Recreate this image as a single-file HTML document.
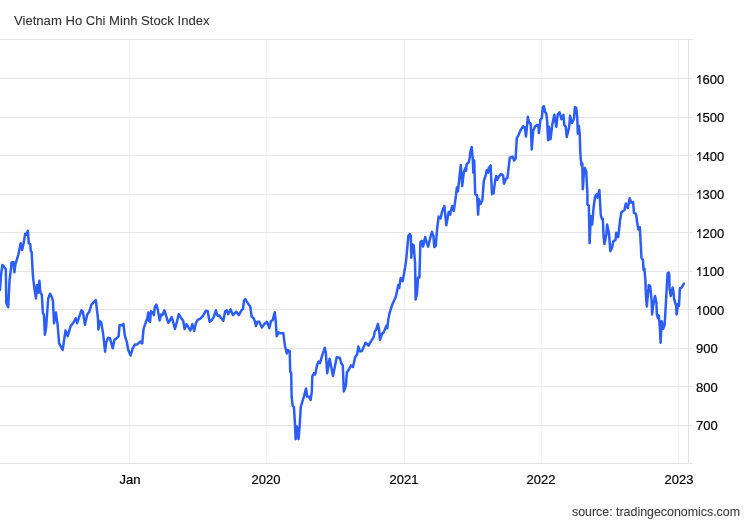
<!DOCTYPE html>
<html><head><meta charset="utf-8"><style>
html,body{margin:0;padding:0;background:#fff;width:750px;height:520px;overflow:hidden}
.t{position:absolute;font-family:"Liberation Sans",sans-serif;font-size:13px;line-height:13px;white-space:nowrap;color:#151515;will-change:transform}
.xl{width:80px;text-align:center}
.one{display:inline-block;width:6.5px;height:13px;vertical-align:top;position:relative}
.one svg{position:absolute;left:0;top:0}
.yl,.xl{color:#000;-webkit-text-stroke:0.2px #000}
svg{position:absolute;left:0;top:0}
</style></head><body>
<svg width="750" height="520" viewBox="0 0 750 520">
<line x1="129.5" y1="39" x2="129.5" y2="463" stroke="#f0f0f0" stroke-width="1"/>
<line x1="266.5" y1="39" x2="266.5" y2="463" stroke="#f0f0f0" stroke-width="1"/>
<line x1="404.5" y1="39" x2="404.5" y2="463" stroke="#f0f0f0" stroke-width="1"/>
<line x1="541.5" y1="39" x2="541.5" y2="463" stroke="#f0f0f0" stroke-width="1"/>
<line x1="678.5" y1="39" x2="678.5" y2="463" stroke="#f0f0f0" stroke-width="1"/>
<line x1="0" y1="39.5" x2="693" y2="39.5" stroke="#e6e6e6" stroke-width="1"/>
<line x1="0" y1="78.5" x2="693" y2="78.5" stroke="#e6e6e6" stroke-width="1"/>
<line x1="0" y1="117.5" x2="693" y2="117.5" stroke="#e6e6e6" stroke-width="1"/>
<line x1="0" y1="155.5" x2="693" y2="155.5" stroke="#e6e6e6" stroke-width="1"/>
<line x1="0" y1="194.5" x2="693" y2="194.5" stroke="#e6e6e6" stroke-width="1"/>
<line x1="0" y1="232.5" x2="693" y2="232.5" stroke="#e6e6e6" stroke-width="1"/>
<line x1="0" y1="271.5" x2="693" y2="271.5" stroke="#e6e6e6" stroke-width="1"/>
<line x1="0" y1="309.5" x2="693" y2="309.5" stroke="#e6e6e6" stroke-width="1"/>
<line x1="0" y1="348.5" x2="693" y2="348.5" stroke="#e6e6e6" stroke-width="1"/>
<line x1="0" y1="386.5" x2="693" y2="386.5" stroke="#e6e6e6" stroke-width="1"/>
<line x1="0" y1="425.5" x2="693" y2="425.5" stroke="#e6e6e6" stroke-width="1"/>
<line x1="688.5" y1="39" x2="688.5" y2="464" stroke="#e0e0e0" stroke-width="1"/>
<line x1="0" y1="463.5" x2="693" y2="463.5" stroke="#e3e3e3" stroke-width="1"/>
<polyline points="0,290 1,275.5 2.4,264.9 4.3,267.3 5.8,269.2 6.3,303.3 8.2,307.2 9.6,279.3 11.1,267.8 11.5,262.5 13.5,262 14.4,272.3 15.4,264.4 18.3,254.8 20.7,243.3 22.1,250 23.6,243.3 25.2,233.7 26.4,234.6 27.9,230.8 28.8,243.3 30.3,244.2 30.8,251 31.7,252 32.7,272.6 33.2,278.3 34.6,289.9 36,298.5 37,285 38,292.8 39.4,280.8 40.4,292.8 41.8,294.5 42.9,313.1 43.9,314.6 44.9,334.8 46.1,327.5 48.2,298.7 50,293.7 51.9,297.3 53,301.6 54,323.2 55.9,312.4 57.6,324.7 59.1,343.4 60.8,346.3 62.7,349.9 65.5,330.4 67.7,336.2 70.6,326.1 73.5,322.5 75.6,318.2 77.1,323.2 81.4,310.3 82.8,311.7 85,324.7 87.2,314.6 89.3,311.7 91.5,304.5 95.8,300.2 97.9,318 98.4,329.5 99.8,320.9 101.3,322.8 103.2,334.3 105.1,351.7 106.1,343 108,337.7 109.9,338.2 112.8,348.3 114.3,340.1 116.7,338.2 118.6,336.3 119.6,325.2 122,325.2 123.4,323.8 124.8,335.3 126.8,342 128.2,349.7 130.6,355.5 132.5,348.8 134.9,344.4 137.3,344.4 140.2,341.6 142.2,343.5 143.6,328.6 146,321.8 147.4,318 148.3,312.4 149.1,321 150,321.8 151,311.2 152.9,312.7 153.8,315.1 154.8,307.4 156.3,304.5 157.7,309.3 158.7,315.1 159.6,320.4 161.1,314.6 162.5,315.1 164.4,310.3 165.9,315.1 168.3,322.8 169.7,320.8 171.6,317 173.1,321.8 175,329 176.9,321.8 178.8,314.1 180.8,317.5 183.2,320.8 184.6,329 186.5,324.2 188.5,327.6 190.4,330.5 192.3,324.2 194.2,331 195.7,323.7 197.6,319.9 200,318.9 202.9,316 205.8,310.8 207.7,311.2 209.6,321.8 212,319.9 213.9,316.5 215.9,310.3 217.3,315.1 218,316 219.4,315.6 220.9,318 223.3,320.8 225.2,311.2 226.7,310.3 228.1,314.1 230.5,309.3 232.9,315.1 236.3,311.7 238.7,315.1 241.1,310.8 243,308.8 244,300.7 245.4,299.2 246.8,301.6 248.8,304.5 250.2,306.4 251.7,317 253.6,318 255,321.8 256,326.1 257.4,321.8 259.3,321.8 261.8,327.6 264.2,324.2 267,321.8 269.4,328.1 270.9,321.3 272.8,319.9 274.7,312.2 275.7,320.8 276.7,336.2 278.6,332.4 280.5,333.3 283.4,333.3 284.9,345.8 286.8,353.5 287.8,350.1 289.7,351.1 290.2,371.7 291.2,372.7 291.6,396.5 292.7,405.8 293.9,406.9 295,424.2 295.6,439.2 296.8,426.5 298.5,439.2 299.6,426.5 300.8,406.9 302.5,401.1 304.3,395.4 306,388.5 307.1,396.5 308.9,396.5 310.6,400 311.8,391.9 312.3,376.5 313.8,373.2 315.2,374.6 317.1,365 318.6,361.6 320,363.1 321.9,356.3 324.8,347.7 325.8,352.5 327.2,373.2 329.6,358.8 333,376.1 336.7,357.2 339.8,357.7 341.3,363.3 342.8,365.4 343.8,391.4 345.9,385.8 346.9,372.5 348.9,369.5 351,365.4 353,366.9 355.1,357.2 357.1,354.2 358.4,346.5 359.8,351.3 361.7,351.3 365.6,342.7 368.5,345.6 371.3,340.8 373.8,336.9 374.7,331.6 376.2,329.7 377.9,323.9 379,329.2 380,339.8 381.9,334 383.8,332.1 386.3,325.9 387.2,328.3 388.2,320.1 389.6,312.9 392,305.3 395.9,296.6 398.3,285.1 399.2,288 400.7,277.9 402.6,281.2 404.5,271.1 406,261.5 408.4,235.6 409.8,234.1 410.8,235.6 411.3,257.7 412.2,244.2 413.7,245.2 415.1,263.5 415.6,299.5 417,293.7 418,277.4 419.4,277.4 420.4,242.3 421.8,240.9 423.1,246.6 425.2,237 426.6,242.3 428.1,246.6 430,239 431.9,231.7 433.4,235.6 434.3,247.1 435.8,245.7 437.2,228 438.7,216.5 440.6,218.5 442,211.7 444.4,206 446.3,225.2 448.8,211.7 450.2,214.6 452.1,206 453.8,210.8 456,195.2 456.9,187.5 457.9,191.3 460.8,164.9 462.2,186.1 463.7,173.1 465.1,168.3 466.1,170.7 466.5,164.4 468.5,162.5 469.4,159.6 470.4,151.9 471.7,147 472.8,159.6 473.3,172.6 474.2,160.6 475.2,194.2 477.1,195.4 478.1,214.6 479,199.2 480.5,204 482.4,200.2 483.8,180.8 485.8,175 486.7,170.2 488.2,172.6 488.7,168.3 490.6,165.4 492,194.2 493.5,193.3 495.4,178.8 496.3,176 497.3,179.8 499.2,176 501.2,174 503.1,175.5 504,183.7 506,178.8 507.4,177.9 509.8,157.7 512.7,156.7 514.1,160.6 515.6,158.7 516.1,150 516.8,138.4 518.3,135.5 520.7,129.7 523.1,126.4 524.8,127.3 526,136.5 527.9,116.8 528.8,122 530.8,124 531.7,149.5 533.2,130.7 535.1,126.4 537,124.9 538.5,125.9 538.9,133.1 540.4,119.6 541.8,118.2 542.8,107.1 544,106.2 545.2,112.4 546.2,113.4 547.1,120.1 548.1,140.3 549,126.8 550.5,139.3 552.4,124 554.3,114.8 556.3,126.8 557.7,114.3 559.6,112.4 561.4,119.2 563.4,114.8 564.3,124.9 565.8,126.8 566.7,137 569.1,127.8 570.1,115.8 572,123 573.9,119.2 574.9,107.1 576.3,108.1 577.3,118.2 577.8,133.6 578.8,125.9 579.7,133.6 580.4,154.6 581.4,165.2 582.3,163.3 582.8,189.2 583.8,173.8 584.8,168.1 586.2,171 587.4,193.8 587.4,204.4 588.8,205.4 589.6,243.1 590.8,216 592.2,224.6 593.6,207.3 595.1,196.7 596.5,194.3 597.5,197.7 599.4,190 600.8,215 601.8,218.8 602.8,218.8 603.7,238.1 604.5,244 606.4,233.9 607.1,224.6 609,233.3 610.3,251.2 612.2,247.4 613.2,241.6 615.6,239.7 616.2,232.8 618.2,237.1 620.1,219.8 621.5,212.1 624.4,210.2 625.8,203.5 627.8,208.3 629.7,198.2 631.1,202.5 633.1,202 634,213.1 635.9,213.6 636.4,217 638.3,229.4 639.8,227 641.5,258 643,259.9 643.5,269.7 644.4,268.7 645.4,280.3 645.9,294.7 646.8,306.5 648.8,285.1 650.2,286 651.6,300.5 652.1,314.4 653.1,305.8 655,296.1 656.4,302.4 656.9,314.4 657.9,318.3 658.8,315.4 659.8,326.9 660.6,342.8 661.7,321.2 663.2,328.8 664.6,325 665.8,305 666.6,290 667.6,273.5 668.6,272.5 669.3,275 669.6,289 670.8,296.1 672.7,287.6 673.5,292.2 674.2,299.5 676.2,305.8 676.6,314.4 678.1,303.8 679,305.8 679.9,288.2 681.6,287.6 683.9,283.6" fill="none" stroke="#2c5df4" stroke-width="2.5" stroke-linejoin="round" stroke-linecap="round"/>
</svg>
<div class="t" style="left:13.7px;top:14px;color:#333;font-size:13.1px;-webkit-text-stroke:0.1px #333">Vietnam Ho Chi Minh Stock Index</div>
<div class="t yl" style="left:695.8px;top:73px"><span class="one"><svg width="8" height="13" viewBox="0 0 8 13"><path d="M3.3 2 H4.45 V11 H3.3 V4 Q2.5 4.9 1.2 5.4 V4.3 Q2.5 3.6 3.3 2 Z" fill="#000"/></svg></span>600</div>
<div class="t yl" style="left:695.8px;top:111px"><span class="one"><svg width="8" height="13" viewBox="0 0 8 13"><path d="M3.3 2 H4.45 V11 H3.3 V4 Q2.5 4.9 1.2 5.4 V4.3 Q2.5 3.6 3.3 2 Z" fill="#000"/></svg></span>500</div>
<div class="t yl" style="left:695.8px;top:150px"><span class="one"><svg width="8" height="13" viewBox="0 0 8 13"><path d="M3.3 2 H4.45 V11 H3.3 V4 Q2.5 4.9 1.2 5.4 V4.3 Q2.5 3.6 3.3 2 Z" fill="#000"/></svg></span>400</div>
<div class="t yl" style="left:695.8px;top:188px"><span class="one"><svg width="8" height="13" viewBox="0 0 8 13"><path d="M3.3 2 H4.45 V11 H3.3 V4 Q2.5 4.9 1.2 5.4 V4.3 Q2.5 3.6 3.3 2 Z" fill="#000"/></svg></span>300</div>
<div class="t yl" style="left:695.8px;top:227px"><span class="one"><svg width="8" height="13" viewBox="0 0 8 13"><path d="M3.3 2 H4.45 V11 H3.3 V4 Q2.5 4.9 1.2 5.4 V4.3 Q2.5 3.6 3.3 2 Z" fill="#000"/></svg></span>200</div>
<div class="t yl" style="left:695.8px;top:265px"><span class="one"><svg width="8" height="13" viewBox="0 0 8 13"><path d="M3.3 2 H4.45 V11 H3.3 V4 Q2.5 4.9 1.2 5.4 V4.3 Q2.5 3.6 3.3 2 Z" fill="#000"/></svg></span>100</div>
<div class="t yl" style="left:695.8px;top:304px"><span class="one"><svg width="8" height="13" viewBox="0 0 8 13"><path d="M3.3 2 H4.45 V11 H3.3 V4 Q2.5 4.9 1.2 5.4 V4.3 Q2.5 3.6 3.3 2 Z" fill="#000"/></svg></span>000</div>
<div class="t yl" style="left:695.8px;top:342px">900</div>
<div class="t yl" style="left:695.8px;top:381px">800</div>
<div class="t yl" style="left:695.8px;top:419px">700</div>
<div class="t xl" style="left:89.5px;top:473px">Jan</div>
<div class="t xl" style="left:226px;top:473px">2020</div>
<div class="t xl" style="left:364px;top:473px">2021</div>
<div class="t xl" style="left:501px;top:473px">2022</div>
<div class="t xl" style="left:639px;top:473px">2023</div>
<div class="t" style="left:560px;width:180px;text-align:right;top:506px;font-size:12.4px;color:#3c3c3c;-webkit-text-stroke:0.1px #3c3c3c">source: tradingeconomics.com</div>
</body></html>
